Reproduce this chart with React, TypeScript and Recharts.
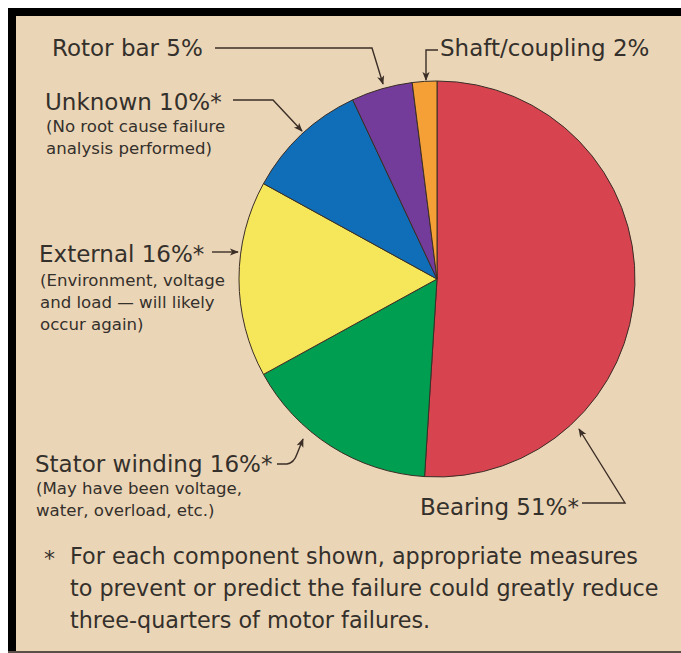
import React from 'react';
import { PieChart, Pie, Cell } from 'recharts';

const categories = ['Bearing', 'Stator winding', 'External', 'Unknown', 'Rotor bar', 'Shaft/coupling'];
const shares = [51, 16, 16, 10, 5, 2];
const starred = [true, true, true, true, false, false];
const colors = ['#d84350', '#009e50', '#f5e65a', '#106eb9', '#733c9b', '#f5a037'];
const notes: string[][] = [
  [],
  ['(May have been voltage,', 'water, overload, etc.)'],
  ['(Environment, voltage', 'and load \u2014 will likely', 'occur again)'],
  ['(No root cause failure', 'analysis performed)'],
  [],
  [],
];
const footnote = [
  'For each component shown, appropriate measures',
  'to prevent or predict the failure could greatly reduce',
  'three-quarters of motor failures.',
];

const data = categories.map((name, i) => ({ name, value: shares[i] }));
const labelText = (i: number) => `${categories[i]} ${shares[i]}%${starred[i] ? '*' : ''}`;

const W = 681;
const H = 653;
const FONT = '"DejaVu Sans", "Liberation Sans", sans-serif';
const TXT = '#34302b';
const LINE = '#3a2e26';

// label placement: [x, baseline]
const labelPos: [number, number][] = [
  [420, 515],
  [35, 472],
  [39, 262],
  [45, 110],
  [52, 56],
  [440, 56],
];

export default function App() {
  return (
    <div style={{ position: 'absolute', left: 0, top: 0, width: W, height: H, background: '#ebd5b7' }}>
      <div style={{ position: 'absolute', left: 0, top: 0, width: W + 40, height: 8, background: '#ffffff' }} />
      <div style={{ position: 'absolute', left: 0, top: 0, width: 8, height: H + 40, background: '#ffffff' }} />
      <div style={{ position: 'absolute', left: 8, top: 8, width: W + 40, height: 8, background: '#000' }} />
      <div style={{ position: 'absolute', left: 8, top: 8, width: 8, height: H + 40, background: '#000' }} />
      <div style={{ position: 'absolute', left: 8, top: H - 2, width: W + 40, height: 2, background: '#5a5048' }} />
      <div style={{ position: 'absolute', left: 0, top: 0 }}>
        <PieChart width={W} height={H} margin={{ top: 0, right: 0, bottom: 0, left: 0 }}>
          <Pie
            data={data}
            dataKey="value"
            nameKey="name"
            cx={437}
            cy={279}
            outerRadius={198}
            innerRadius={0}
            startAngle={90}
            endAngle={-270}
            stroke={LINE}
            strokeWidth={1}
            isAnimationActive={false}
            label={false}
            labelLine={false}
          >
            {data.map((d, i) => (
              <Cell key={d.name} fill={colors[i]} />
            ))}
          </Pie>
        </PieChart>
      </div>
      <svg width={W} height={H} style={{ position: 'absolute', left: 0, top: 0 }}>
        <defs>
          <marker id="ah" viewBox="0 0 10 10" refX="9" refY="5" markerWidth="9" markerHeight="9" orient="auto" markerUnits="userSpaceOnUse">
            <path d="M0,1 L10,5 L0,9 L2.5,5 Z" fill={LINE} />
          </marker>
        </defs>
        <g fill="none" stroke={LINE} strokeWidth={1.4}>
          {/* Rotor bar */}
          <path d="M215 48 L372 48 L383 84" markerEnd="url(#ah)" />
          {/* Shaft/coupling */}
          <path d="M438 50 L426 50 L426 80" markerEnd="url(#ah)" />
          {/* Unknown */}
          <path d="M233 100 L273 100 L302 131" markerEnd="url(#ah)" />
          {/* External */}
          <path d="M212 252 L238 252" markerEnd="url(#ah)" />
          {/* Stator winding */}
          <path d="M277 464 L287 464 Q294 463 297 454 L303 439" markerEnd="url(#ah)" />
          {/* Bearing */}
          <path d="M582 503 L625 503 L579 429" markerEnd="url(#ah)" />
        </g>
        <g fontFamily={FONT} fill={TXT}>
          {labelPos.map(([x, y], i) => (
            <g key={categories[i]}>
              <text x={x} y={y} fontSize={23}>{labelText(i)}</text>
              {notes[i].map((n, j) => (
                <text key={j} x={x + 1} y={y + 22 * (j + 1) + (i === 2 ? 2 : 0)} fontSize={16.6}>{n}</text>
              ))}
            </g>
          ))}
          <text x={44} y={566} fontSize={22}>*</text>
          {footnote.map((l, j) => (
            <text key={j} x={70} y={564 + 32 * j} fontSize={22.3}>{l}</text>
          ))}
        </g>
      </svg>
    </div>
  );
}
